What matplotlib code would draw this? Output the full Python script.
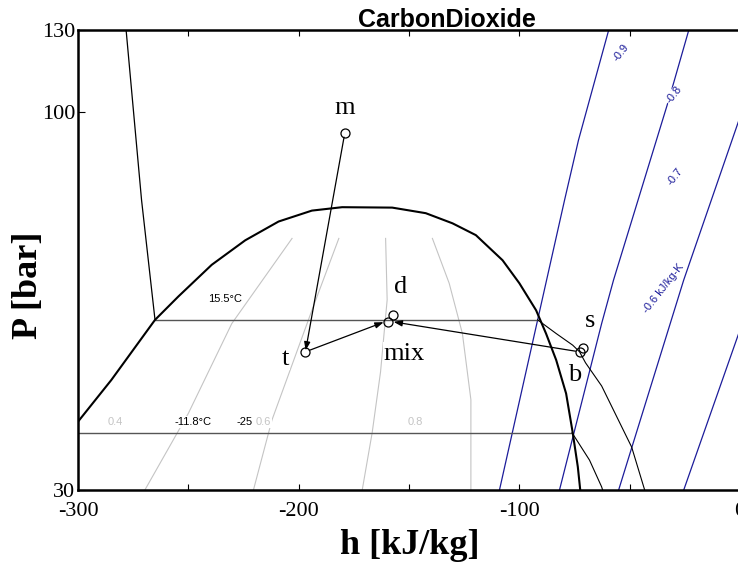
import numpy as np
import matplotlib
matplotlib.use("Agg")
import matplotlib.pyplot as plt
from matplotlib.ticker import FixedLocator, NullFormatter, NullLocator

# ---------------- data (h in kJ/kg, P in bar) ----------------
dome_h = [-300.0, -284.9, -265.1, -254.5, -239.4, -224.2, -209.1, -194.0, -180.3,
          -157.6, -142.4, -130.3, -119.7, -107.6, -100.0, -92.4, -87.9, -83.3,
          -78.8, -75.8, -73.5, -72.4]
dome_p = [37.3, 42.6, 51.6, 55.6, 61.5, 66.5, 70.6, 73.1, 73.9,
          73.8, 72.5, 70.2, 67.6, 62.4, 58.0, 53.2, 49.4, 45.4,
          40.8, 36.0, 32.3, 30.0]

# isotherm 15.5 C
iso1_liq_h = [-278.2, -271.2, -265.1]
iso1_liq_p = [130.0, 75.6, 51.6]
iso1_two_h = [-265.1, -91.7]
iso1_two_p = [51.6, 51.6]
iso1_vap_h = [-91.7, -83.3, -75.8, -72.7, -70.0, -62.7, -49.1, -43.2, -41.5]
iso1_vap_p = [51.6, 49.4, 47.6, 46.6, 45.0, 41.8, 34.4, 30.0, 29.0]

# isotherm -11.8 C
iso2_two_h = [-310.0, -76.1]
iso2_two_p = [36.0, 36.0]
iso2_vap_h = [-76.1, -68.2, -62.7, -61.5]
iso2_vap_p = [36.0, 33.0, 30.3, 29.5]

# quality lines
qual_h = [
    [-269.7, -250.0, -230.3, -203.0],
    [-220.5, -212.1, -194.0, -181.8],
    [-171.2, -166.7, -162.9, -159.9, -160.6],
    [-121.95, -121.95, -125.8, -131.8, -139.4],
]
qual_p = [
    [30.0, 38.3, 51.0, 66.9],
    [30.0, 37.5, 53.2, 66.9],
    [30.0, 36.0, 43.7, 55.0, 66.9],
    [30.0, 40.0, 49.4, 58.0, 66.9],
]
qual_labels = ["0.4", "0.6", "0.8"]

# isentropes (kJ/kg-K)
s_labels = ["-0.9", "-0.8", "-0.7", "-0.6 kJ/kg-K"]
s_h = [
    [-109.0, -91.7, -79.5, -73.2, -59.5],
    [-81.8, -62.7, -57.3, -32.3, -23.2],
    [-55.0, -25.5, 0.0, 6.0],
    [-25.5, 0.0, 6.0],
]
s_p = [
    [30.0, 51.6, 75.6, 91.5, 130.0],
    [30.0, 51.0, 58.6, 104.0, 130.0],
    [30.0, 58.6, 98.5, 112.0],
    [30.0, 50.0, 55.0],
]

# cycle states
pt_names = ["m", "t", "d", "mix", "s", "b"]
pt_h = [-179.1, -196.95, -157.3, -159.4, -71.2, -72.7]
pt_p = [93.6, 46.6, 52.4, 51.3, 47.1, 46.6]

xticks = [-300, -200, -100, 0]
xminor = [-250, -150, -50]
yticks = [30, 100, 130]

# ---------------- figure ----------------
W, H = 738, 563
fig = plt.figure(figsize=(W / 100, H / 100), dpi=100)
ax = fig.add_axes([78 / W, (H - 490) / H, 662 / W, 460 / H])
ax.set_yscale("log")
ax.set_xlim(-300, 0)
ax.set_ylim(30, 130)

serif = "Liberation Serif"
sans = "Liberation Sans"
blue = "#1c1c9a"
lgray = "#c4c4c4"

# quality lines
for hh, pp in zip(qual_h, qual_p):
    ax.plot(hh, pp, color=lgray, lw=0.8, zorder=1)

# isentropes
for hh, pp in zip(s_h, s_p):
    ax.plot(hh, pp, color=blue, lw=0.9, zorder=2)

# isotherms
ax.plot(iso1_liq_h, iso1_liq_p, color="black", lw=0.9, zorder=2)
ax.plot(iso1_two_h, iso1_two_p, color="#555555", lw=1.0, zorder=2)
ax.plot(iso1_vap_h, iso1_vap_p, color="black", lw=0.8, zorder=2)
ax.plot(iso2_two_h, iso2_two_p, color="#555555", lw=1.0, zorder=2)
ax.plot(iso2_vap_h, iso2_vap_p, color="black", lw=0.8, zorder=2)

# dome (drawn above label boxes)
ax.plot(dome_h, dome_p, color="black", lw=1.5, zorder=8,
        solid_joinstyle="round")

# helper: pixel -> data (for text placement only)
def px(x, y):
    h = -300 + (x - 78) / 2.2
    p = 30 * (130 / 30) ** ((490 - y) / 460)
    return h, p

bb = dict(boxstyle="square,pad=0.05", fc="white", ec="none")

# small labels
for txt, (x, y), col in [("15.5°C", (225, 299), "black"),
                         ("-11.8°C", (193, 422), "black"),
                         ("-25", (244, 422), "black"),
                         (qual_labels[0], (115, 422), lgray),
                         (qual_labels[1], (263, 422), lgray),
                         (qual_labels[2], (414, 422), lgray)]:
    ax.text(*px(x, y), txt, fontsize=8, family=sans, color=col,
            ha="center", va="center", bbox=bb, zorder=4)

for txt, (x, y) in zip(s_labels, [(619, 53), (672, 95), (673, 177), (662, 288)]):
    ax.text(*px(x, y), txt, fontsize=8, family=sans, color=blue,
            ha="center", va="center", rotation=52, rotation_mode="anchor",
            bbox=bb, zorder=4)

# cycle arrows
arrow_kw = dict(arrowstyle="-|>,head_length=0.5,head_width=0.18", color="black",
                lw=0.9, shrinkA=3, shrinkB=1)
im, it, imix, ib = (pt_names.index(n) for n in ["m", "t", "mix", "b"])
ax.annotate("", xy=(pt_h[it], pt_p[it]), xytext=(pt_h[im], pt_p[im]),
            arrowprops=arrow_kw, zorder=5)
ax.annotate("", xy=(pt_h[imix] - 1.5, pt_p[imix]), xytext=(pt_h[it], pt_p[it]),
            arrowprops=arrow_kw, zorder=5)
ax.annotate("", xy=(pt_h[imix] + 1.8, pt_p[imix]), xytext=(pt_h[ib], pt_p[ib]),
            arrowprops=arrow_kw, zorder=5)

# state points
ax.plot(pt_h, pt_p, linestyle="none", marker="o", ms=6.5, mfc="none",
        mec="black", mew=0.9, zorder=6)
offsets = {"m": (0, 25), "t": (-20, -7), "d": (8, 28), "mix": (16, -32),
           "s": (7, 27), "b": (-5, -23)}
for n, hh, pp in zip(pt_names, pt_h, pt_p):
    ax.annotate(n, xy=(hh, pp), xytext=offsets[n], textcoords="offset pixels",
                fontsize=19, family=serif, ha="center", va="center",
                bbox=dict(boxstyle="square,pad=0.02", fc="white", ec="none"),
                zorder=5)

# axes styling
for side in ["left", "bottom", "top"]:
    ax.spines[side].set_linewidth(1.8)
ax.spines["right"].set_visible(False)
ax.xaxis.set_major_locator(FixedLocator(xticks))
ax.xaxis.set_minor_locator(FixedLocator(xminor))
ax.set_xticklabels([str(v) for v in xticks])
ax.yaxis.set_major_locator(FixedLocator(yticks))
ax.yaxis.set_minor_locator(NullLocator())
ax.yaxis.set_minor_formatter(NullFormatter())
ax.set_yticklabels([str(v) for v in yticks])
ax.tick_params(axis="x", which="both", direction="in", top=True, length=4,
               width=0.8, labelsize=16, pad=9)
ax.tick_params(axis="y", which="both", direction="in", length=5, width=0.8,
               labelsize=16, pad=2)
for lab in ax.get_xticklabels() + ax.get_yticklabels():
    lab.set_family(serif)

fig.text(447 / W, 1 - 20 / H, "CarbonDioxide", family=sans, weight="bold",
         fontsize=18, ha="center", va="center")
fig.text(410 / W, 1 - 546 / H, "h [kJ/kg]", family=serif, weight="bold",
         fontsize=26, ha="center", va="center")
fig.text(28 / W, 1 - 285 / H, "P [bar]", family=serif, weight="bold",
         fontsize=26, ha="center", va="center", rotation=90)

fig.savefig("out.png", dpi=100)
